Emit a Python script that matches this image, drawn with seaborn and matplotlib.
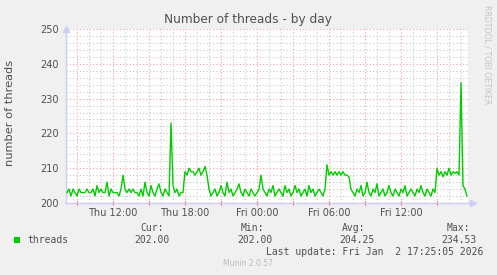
import matplotlib
matplotlib.use("Agg")
import matplotlib.pyplot as plt
from matplotlib.patches import Rectangle
from matplotlib.ticker import MultipleLocator, FuncFormatter
import seaborn as sns
import numpy as np
import pandas as pd

# ---------------- data ----------------
title = "Number of threads - by day"
y_label = "number of threads"
series_name = "threads"
start_hour = 8 + 10 / 60      # Thu 08:10 (hours since Thu 00:00)
step_minutes = 10

seg_thu_morning = [203, 204, 202, 204, 203, 202, 204, 203, 203, 203,
                   204, 203, 203, 204, 202, 205, 203, 204, 203, 203,
                   206, 202, 204, 203, 203, 203, 202, 204, 208, 204,
                   203, 204, 203, 204, 203, 203, 202, 204, 202, 206,
                   203, 202, 205, 203, 202, 204, 205.5, 203, 202, 204,
                   203, 202]
spike_thu = [223]
seg_thu_afternoon = [205, 203, 204, 202, 203, 203]
plateau_thu_evening = [209, 208, 210, 209, 209, 208, 209, 210, 208, 209, 210.5, 208]
seg_night = [204, 202, 203, 204, 202, 203, 205, 203, 202, 206,
             203, 204, 202, 203, 204, 205.5, 203, 202, 204, 203,
             202, 204, 203, 202, 203, 204, 208, 204, 203, 202,
             204, 203, 205, 202, 203, 204, 203, 202, 205, 203,
             204, 202, 203, 205, 203, 204, 202, 203, 204, 202,
             205, 203, 204, 202, 203, 204, 203, 202, 204]
plateau_fri_morning = [211, 208, 209, 208, 209, 208, 209, 208, 209, 208, 208, 207.5]
seg_fri_day = [204, 203, 202, 204, 203, 205, 202, 203, 206, 203,
               202, 204, 203, 205.5, 202, 203, 204, 202, 203, 205,
               203, 202, 204, 203, 202, 204, 203, 205, 202, 203,
               204, 203, 202, 204, 203, 205, 203, 202, 204, 203,
               202, 204, 203]
plateau_fri_afternoon = [210, 208, 209, 207.5, 209, 208, 210, 208, 209, 208.5, 209, 208]
spike_fri = [234.53]
seg_tail = [205, 204, 202]

threads = (seg_thu_morning + spike_thu + seg_thu_afternoon + plateau_thu_evening
           + seg_night + plateau_fri_morning + seg_fri_day + plateau_fri_afternoon
           + spike_fri + seg_tail)

tick_hours = [12, 18, 24, 30, 36]
tick_labels = ["Thu 12:00", "Thu 18:00", "Fri 00:00", "Fri 06:00", "Fri 12:00"]

stats_labels = ["Cur:", "Min:", "Avg:", "Max:"]
stats_values = [202.00, 202.00, 204.25, 234.53]
last_update = "Last update: Fri Jan  2 17:25:05 2026"
version = "Munin 2.0.57"
side_text = "RRDTOOL / TOBI OETIKER"

# ---------------- figure ----------------
W, H = 497, 275
BG = "#F0F0F0"
TXT = "#505050"

hours = start_hour + np.arange(len(threads)) * step_minutes / 60
df = pd.DataFrame({"hour": hours, series_name: threads})

fig = plt.figure(figsize=(W / 100, H / 100), dpi=100, facecolor=BG)
ax = fig.add_axes([66 / W, 1 - 203 / H, 402 / W, 174 / H])
ax.set_facecolor("white")

sns.lineplot(data=df, x="hour", y=series_name, ax=ax, color="#00CC00",
             linewidth=1.0, zorder=3)

x0 = 8 + 5 / 60
ax.set_xlim(x0, x0 + 402 / 12)
ax.set_ylim(200, 250)
ax.set_xlabel("")
ax.set_ylabel("")

label_map = dict(zip(tick_hours, tick_labels))
ax.xaxis.set_major_locator(MultipleLocator(3))
ax.xaxis.set_minor_locator(MultipleLocator(1))
ax.xaxis.set_major_formatter(FuncFormatter(lambda v, p: label_map.get(int(round(v)), "")))
ax.yaxis.set_major_locator(MultipleLocator(10))
ax.yaxis.set_minor_locator(MultipleLocator(2))

ax.set_axisbelow(True)
ax.grid(which="major", color="#F2A0A0", linestyle=(0, (1, 2)), linewidth=0.8)
ax.grid(which="minor", color="#C8C8C8", linestyle=(0, (1, 2)), linewidth=0.8)

ax.tick_params(axis="x", which="major", colors="#FF5050", length=3, width=0.8,
               direction="inout", labelcolor=TXT, labelsize=7, pad=2)
ax.tick_params(axis="x", which="minor", length=0)
ax.tick_params(axis="y", which="both", length=0, labelcolor=TXT, labelsize=7, pad=5)

for s in ["top", "right"]:
    ax.spines[s].set_visible(False)
for s in ["left", "bottom"]:
    ax.spines[s].set_color("#CCCCF5")
    ax.spines[s].set_linewidth(1.0)

# axis arrows
ax.plot([0], [1.0], marker="^", transform=ax.transAxes, clip_on=False,
        color="#CCCCF5", markersize=5, zorder=5)
ax.plot([1.012], [0], marker=">", transform=ax.transAxes, clip_on=False,
        color="#CCCCF5", markersize=5, zorder=5)
ax.plot([1.0, 1.012], [0, 0], transform=ax.transAxes, clip_on=False,
        color="#CCCCF5", linewidth=1.0)


def px(x, y):
    return x / W, 1 - y / H


fig.text(*px(248, 19), title, ha="center", va="center", color=TXT, fontsize=8.7)
fig.text(*px(10, 113), y_label, ha="center", va="center", rotation=90,
         color=TXT, fontsize=8.2)
fig.text(*px(487, 5), side_text, ha="center", va="top", rotation=270,
         color="#C4C4C4", fontsize=5.6)

# legend
fig.patches.append(Rectangle(px(14, 243), 6 / W, 6 / H, transform=fig.transFigure,
                             facecolor="#00CC00", edgecolor="none"))
mono = dict(family="DejaVu Sans Mono", fontsize=7, color=TXT, va="center")
fig.text(*px(27, 240), series_name, ha="left", **mono)
header_x = [152, 252, 354, 458]
value_right = [170, 273, 375, 477]
for hx, lab in zip(header_x, stats_labels):
    fig.text(*px(hx, 228), lab, ha="center", **mono)
for vx, val in zip(value_right, stats_values):
    fig.text(*px(vx, 240), f"{val:.2f}", ha="right", **mono)
fig.text(*px(483, 252), last_update, ha="right", **mono)
fig.text(*px(248, 263), version, ha="center", va="center", color="#BBBBBB", fontsize=5.5)

fig.savefig("out.png", dpi=100, facecolor=BG)
